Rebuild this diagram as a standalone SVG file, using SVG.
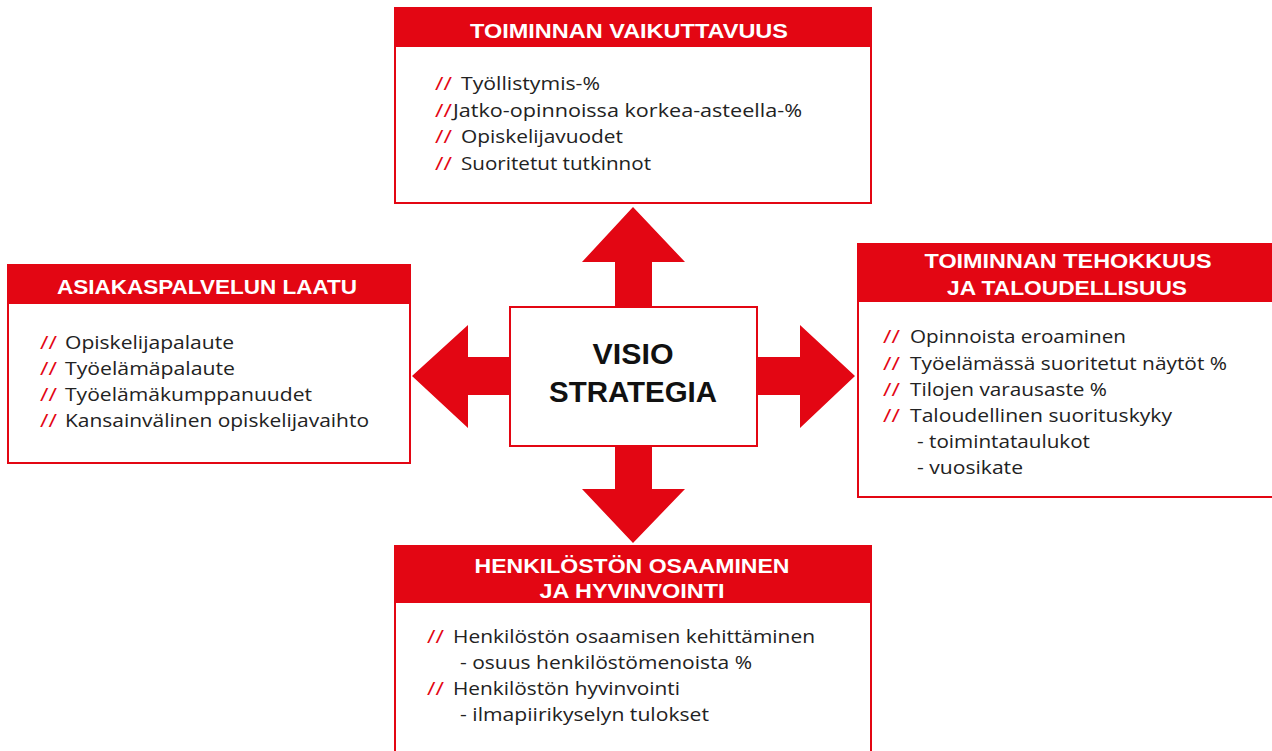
<svg xmlns="http://www.w3.org/2000/svg" width="1272" height="751" viewBox="0 0 1272 751">
<style>
.box{fill:#fff;stroke:#E30613;stroke-width:2}
.hdr{fill:#E30613}
.ht{font-family:"Liberation Sans",Arial,sans-serif;font-weight:bold;font-size:21px;fill:#fff;text-anchor:middle}
.bt{font-family:"Open Sans","Liberation Sans",sans-serif;font-size:19px;fill:#222}
.sl{fill:#E30613;font-size:19px}
.arrow{fill:#E30613}
.ct{font-family:"Liberation Sans",Arial,sans-serif;font-weight:bold;font-size:29px;fill:#111;text-anchor:middle}
</style>
<rect width="1272" height="751" fill="#fff"/>
<g id="connectors">
<polygon class="arrow" points="615,307 615,262 582,262 633,207 685,262 652,262 652,307"/>
<polygon class="arrow" points="615,446 615,489 582,489 633,543 685,489 652,489 652,446"/>
<polygon class="arrow" points="510,357 468,357 468,325 412,376 468,428 468,395 510,395"/>
<polygon class="arrow" points="757,357 800,357 800,325 855,376 800,428 800,395 757,395"/>
</g>
<g id="center">
<rect class="box" x="510" y="307" width="247" height="139"/>
<text class="ct" x="633" y="364" textLength="81" lengthAdjust="spacingAndGlyphs">VISIO</text>
<text class="ct" x="633" y="402" textLength="168" lengthAdjust="spacingAndGlyphs">STRATEGIA</text>
</g>
<g id="top">
<rect class="box" x="395" y="8" width="476" height="195"/>
<rect class="hdr" x="394" y="7" width="478" height="40"/>
<text class="ht" x="629" y="38" textLength="318" lengthAdjust="spacingAndGlyphs">TOIMINNAN VAIKUTTAVUUS</text>
<text class="bt"><tspan class="sl" x="435" y="90" textLength="17" lengthAdjust="spacingAndGlyphs">//</tspan><tspan x="461" y="90" textLength="139" lengthAdjust="spacingAndGlyphs">Työllistymis-%</tspan></text>
<text class="bt"><tspan class="sl" x="435" y="117" textLength="17" lengthAdjust="spacingAndGlyphs">//</tspan><tspan x="453" y="117" textLength="349" lengthAdjust="spacingAndGlyphs">Jatko-opinnoissa korkea-asteella-%</tspan></text>
<text class="bt"><tspan class="sl" x="435" y="143" textLength="17" lengthAdjust="spacingAndGlyphs">//</tspan><tspan x="461" y="143" textLength="162" lengthAdjust="spacingAndGlyphs">Opiskelijavuodet</tspan></text>
<text class="bt"><tspan class="sl" x="435" y="170" textLength="17" lengthAdjust="spacingAndGlyphs">//</tspan><tspan x="461" y="170" textLength="190" lengthAdjust="spacingAndGlyphs">Suoritetut tutkinnot</tspan></text>
</g>
<g id="left">
<rect class="box" x="8" y="265" width="402" height="198"/>
<rect class="hdr" x="7" y="264" width="404" height="40"/>
<text class="ht" x="207" y="294" textLength="300" lengthAdjust="spacingAndGlyphs">ASIAKASPALVELUN LAATU</text>
<text class="bt"><tspan class="sl" x="40" y="349" textLength="17" lengthAdjust="spacingAndGlyphs">//</tspan><tspan x="65" y="349" textLength="169" lengthAdjust="spacingAndGlyphs">Opiskelijapalaute</tspan></text>
<text class="bt"><tspan class="sl" x="40" y="375" textLength="17" lengthAdjust="spacingAndGlyphs">//</tspan><tspan x="65" y="375" textLength="170" lengthAdjust="spacingAndGlyphs">Työelämäpalaute</tspan></text>
<text class="bt"><tspan class="sl" x="40" y="401" textLength="17" lengthAdjust="spacingAndGlyphs">//</tspan><tspan x="65" y="401" textLength="247" lengthAdjust="spacingAndGlyphs">Työelämäkumppanuudet</tspan></text>
<text class="bt"><tspan class="sl" x="40" y="427" textLength="17" lengthAdjust="spacingAndGlyphs">//</tspan><tspan x="65" y="427" textLength="304" lengthAdjust="spacingAndGlyphs">Kansainvälinen opiskelijavaihto</tspan></text>
</g>
<g id="right">
<rect class="box" x="858" y="244" width="430" height="253"/>
<rect class="hdr" x="857" y="243" width="432" height="59"/>
<text class="ht" x="1068" y="268" textLength="287" lengthAdjust="spacingAndGlyphs">TOIMINNAN TEHOKKUUS</text>
<text class="ht" x="1067" y="295" textLength="240" lengthAdjust="spacingAndGlyphs">JA TALOUDELLISUUS</text>
<text class="bt"><tspan class="sl" x="883" y="343" textLength="17" lengthAdjust="spacingAndGlyphs">//</tspan><tspan x="910" y="343" textLength="216" lengthAdjust="spacingAndGlyphs">Opinnoista eroaminen</tspan></text>
<text class="bt"><tspan class="sl" x="883" y="370" textLength="17" lengthAdjust="spacingAndGlyphs">//</tspan><tspan x="910" y="370" textLength="317" lengthAdjust="spacingAndGlyphs">Työelämässä suoritetut näytöt %</tspan></text>
<text class="bt"><tspan class="sl" x="883" y="396" textLength="17" lengthAdjust="spacingAndGlyphs">//</tspan><tspan x="910" y="396" textLength="197" lengthAdjust="spacingAndGlyphs">Tilojen varausaste %</tspan></text>
<text class="bt"><tspan class="sl" x="883" y="422" textLength="17" lengthAdjust="spacingAndGlyphs">//</tspan><tspan x="910" y="422" textLength="262" lengthAdjust="spacingAndGlyphs">Taloudellinen suorituskyky</tspan></text>
<text class="bt" x="917" y="448" textLength="173" lengthAdjust="spacingAndGlyphs">- toimintataulukot</text>
<text class="bt" x="917" y="474" textLength="106" lengthAdjust="spacingAndGlyphs">- vuosikate</text>
</g>
<g id="bottom">
<rect class="box" x="395" y="546" width="476" height="220"/>
<rect class="hdr" x="394" y="545" width="478" height="58"/>
<text class="ht" x="632" y="573" textLength="315" lengthAdjust="spacingAndGlyphs">HENKILÖSTÖN OSAAMINEN</text>
<text class="ht" x="632" y="598" textLength="185" lengthAdjust="spacingAndGlyphs">JA HYVINVOINTI</text>
<text class="bt"><tspan class="sl" x="427" y="643" textLength="17" lengthAdjust="spacingAndGlyphs">//</tspan><tspan x="453" y="643" textLength="362" lengthAdjust="spacingAndGlyphs">Henkilöstön osaamisen kehittäminen</tspan></text>
<text class="bt" x="460" y="669" textLength="292" lengthAdjust="spacingAndGlyphs">- osuus henkilöstömenoista %</text>
<text class="bt"><tspan class="sl" x="427" y="695" textLength="17" lengthAdjust="spacingAndGlyphs">//</tspan><tspan x="453" y="695" textLength="227" lengthAdjust="spacingAndGlyphs">Henkilöstön hyvinvointi</tspan></text>
<text class="bt" x="460" y="721" textLength="249" lengthAdjust="spacingAndGlyphs">- ilmapiirikyselyn tulokset</text>
</g>
</svg>
